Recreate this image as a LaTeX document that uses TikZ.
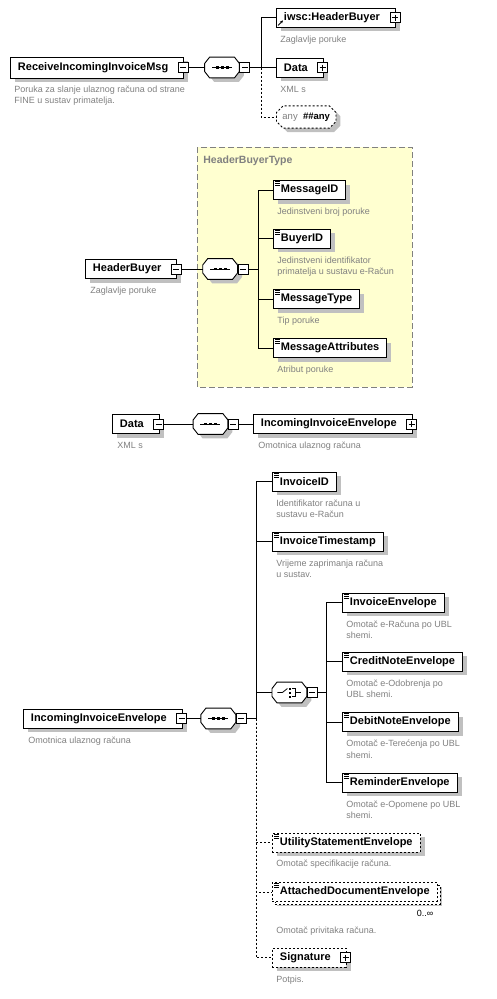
\documentclass[tikz,border=0pt]{standalone}
\usepackage{fontspec}
\setmainfont{Liberation Sans}
\usetikzlibrary{positioning,shapes.misc,shadows,arrows.meta}

\definecolor{descgray}{RGB}{128,128,128}
\definecolor{typeyellow}{RGB}{255,255,208}
\definecolor{shadowgray}{RGB}{192,192,192}

\tikzset{
  elem/.style={draw, fill=white, line width=0.9pt, minimum height=19pt,
    inner xsep=7.5pt, inner ysep=0pt, anchor=west,
    font=\bfseries\fontsize{11}{12}\selectfont,
    drop shadow={shadow xshift=4.5pt, shadow yshift=-4pt, fill=shadowgray, opacity=1}},
  optelem/.style={elem, dash pattern=on 2pt off 2pt},
  multi/.style={copy shadow={shadow xshift=3pt, shadow yshift=-3pt, fill=white,
    draw, line width=0.9pt, dash pattern=on 2pt off 2pt}},
  hasbtn/.style={execute at end node={\hspace{8pt}}},
  compositor/.style={minimum width=34pt, minimum height=20pt, inner sep=0pt},
  btn/.style={draw, fill=white, line width=0.7pt, minimum size=10pt, inner sep=0pt,
    path picture={\draw[line width=0.7pt] ([xshift=2pt]path picture bounding box.west)
      -- ([xshift=-2pt]path picture bounding box.east);}},
  plusbtn/.style={draw, fill=white, line width=0.7pt, minimum size=10pt, inner sep=0pt,
    path picture={\draw[line width=0.7pt] ([xshift=2pt]path picture bounding box.west)
      -- ([xshift=-2pt]path picture bounding box.east)
      ([yshift=-2pt]path picture bounding box.north)
      -- ([yshift=2pt]path picture bounding box.south);}},
  desc/.style={font=\fontsize{9}{11.5}\selectfont, text=descgray, align=left,
    inner sep=0pt, anchor=north west},
  optline/.style={dash pattern=on 2pt off 2pt},
  typebox/.style={draw=descgray, fill=typeyellow, line width=0.9pt, dash pattern=on 6pt off 3pt},
}

% octagon of a compositor, with its shadow
\newcommand\compbox[1]{%
  \fill[shadowgray, transform canvas={shift={(4.5pt,-4pt)}}]
    ([yshift=4pt]#1.west) -- ([xshift=5pt]#1.north west)
    -- ([xshift=-5pt]#1.north east) -- ([yshift=4pt]#1.east) -- ([yshift=-4pt]#1.east)
    -- ([xshift=-5pt]#1.south east) -- ([xshift=5pt]#1.south west)
    -- ([yshift=-4pt]#1.west) -- cycle;
  \draw[fill=white, line width=0.9pt] ([yshift=4pt]#1.west) -- ([xshift=5pt]#1.north west)
    -- ([xshift=-5pt]#1.north east) -- ([yshift=4pt]#1.east) -- ([yshift=-4pt]#1.east)
    -- ([xshift=-5pt]#1.south east) -- ([xshift=5pt]#1.south west)
    -- ([yshift=-4pt]#1.west) -- cycle;}
% small marks inside the boxes
\newcommand\leafmark[1]{%
  \foreach \k in {1.5,3.5,5.5}
    \draw[line width=0.7pt] ([shift={(2,\k)}]#1.north west) -- ++(5,0);}
\newcommand\seqmark[1]{%
  \draw[line width=0.8pt] ([xshift=-10pt]#1.center) -- ([xshift=10pt]#1.center);
  \foreach \dx in {-5,0,5}
    \fill ([xshift=\dx pt]#1.center) +(-1.5,-1.2) rectangle +(1.5,1.2);}
\newcommand\choicemark[1]{%
  \draw[line width=0.8pt] ([xshift=-12pt]#1.center) -- ++(5,0) -- ++(5,-4);
  \foreach \dy in {-4,0,4}
    \fill ([shift={(1,\dy)}]#1.center) +(-1,-1) rectangle +(1,1);
  \draw[line width=0.8pt] ([shift={(3,-4)}]#1.center) -- ++(3,0) -- ++(0,8) -- ++(-3,0)
    ([shift={(6,0)}]#1.center) -- ++(6,0);}

\begin{document}
\begin{tikzpicture}[x=1pt, y=-1pt, line width=0.8pt]
\useasboundingbox (0,0) rectangle (497,999);

% ReceiveIncomingInvoiceMsg
\node[elem, hasbtn, minimum height=21pt] (rimsg) at (10,67.5) {ReceiveIncomingInvoiceMsg};
\node[btn] (rimsgbtn) at ([xshift=-1pt]rimsg.east) {};
\node[desc] (rimsgdesc) at ([shift={(4,7)}]rimsg.south west) {Poruka za slanje ulaznog računa od strane\\FINE u sustav primatelja.};
\node[compositor, right=16pt of rimsgbtn] (seq1) {};
\compbox{seq1}
\seqmark{seq1}
\node[btn, anchor=west] (seq1btn) at (seq1.east) {};
\coordinate (bus1) at ([xshift=11pt]seq1btn.east);

\node[elem, hasbtn] (hdr) at (276,17.5) {iwsc:HeaderBuyer};
\node[plusbtn] (hdrbtn) at ([xshift=-1pt]hdr.east) {};
\draw[-{Stealth[length=3pt,width=3pt]}] ([shift={(2,-2)}]hdr.south west) -- ++(5,-5);
\node[desc] (hdrdesc) at ([shift={(4,8)}]hdr.south west) {Zaglavlje poruke};
\node[elem, hasbtn] (data) at (276,67.5) {Data};
\node[plusbtn] (databtn) at ([xshift=-1pt]data.east) {};
\node[desc] (datadesc) at ([shift={(4,8)}]data.south west) {XML s};
\node[chamfered rectangle, chamfered rectangle xsep=3pt, draw, fill=white, line width=0.9pt,
  optline, minimum height=18pt, inner xsep=3pt, anchor=west,
  drop shadow={shadow xshift=4.5pt, shadow yshift=-4pt, fill=shadowgray, opacity=1}]
  (any) at (276,117) {\fontsize{9.5}{11}\selectfont{\color{descgray}any}\ \ \textbf{\#\#any}};

\draw (rimsgbtn) -- (seq1);
\draw (seq1btn) -- (bus1);
\draw (bus1) |- (hdr);
\draw (bus1) |- (data);
\draw[optline] (bus1) |- (any);

% HeaderBuyerType
\draw[typebox] (197,147) rectangle (412,387);
\node[anchor=west, text=descgray, font=\bfseries\fontsize{10.5}{12}\selectfont, inner sep=0pt]
  (hbtype) at (203,161) {HeaderBuyerType};
\node[elem, hasbtn] (hb) at (85,269) {HeaderBuyer};
\node[btn] (hbbtn) at ([xshift=-1pt]hb.east) {};
\node[desc] (hbdesc) at ([shift={(5,8)}]hb.south west) {Zaglavlje poruke};
\node[compositor, right=21pt of hbbtn] (seq2) {};
\compbox{seq2}
\seqmark{seq2}
\node[btn, anchor=west] (seq2btn) at (seq2.east) {};
\coordinate (bus2) at ([xshift=10pt]seq2btn.east);

\node[elem] (msgid) at (273,190) {MessageID};
\leafmark{msgid}
\node[desc] (msgiddesc) at ([shift={(4,8)}]msgid.south west) {Jedinstveni broj poruke};
\node[elem] (buyerid) at (273,238.5) {BuyerID};
\leafmark{buyerid}
\node[desc] (buyeriddesc) at ([shift={(4,8)}]buyerid.south west) {Jedinstveni identifikator\\primatelja u sustavu e-Račun};
\node[elem] (msgtype) at (273,299) {MessageType};
\leafmark{msgtype}
\node[desc] (msgtypedesc) at ([shift={(4,8)}]msgtype.south west) {Tip poruke};
\node[elem] (msgattr) at (273,348) {MessageAttributes};
\leafmark{msgattr}
\node[desc] (msgattrdesc) at ([shift={(4,8)}]msgattr.south west) {Atribut poruke};

\draw (hbbtn) -- (seq2);
\draw (seq2btn) -- (bus2);
\draw (bus2) |- (msgid);
\draw (bus2) |- (buyerid);
\draw (bus2) |- (msgtype);
\draw (bus2) |- (msgattr);

% Data
\node[elem, hasbtn] (data2) at (112,424) {Data};
\node[btn] (data2btn) at ([xshift=-1pt]data2.east) {};
\node[desc] (data2desc) at ([shift={(5,8)}]data2.south west) {XML s};
\node[compositor, right=29pt of data2btn] (seq3) {};
\compbox{seq3}
\seqmark{seq3}
\node[btn, anchor=west] (seq3btn) at (seq3.east) {};
\node[elem, hasbtn] (env) at (253,424) {IncomingInvoiceEnvelope};
\node[plusbtn] (envbtn) at ([xshift=-1pt]env.east) {};
\node[desc] (envdesc) at ([shift={(5,8)}]env.south west) {Omotnica ulaznog računa};

\draw (data2btn) -- (seq3);
\draw (seq3btn) -- (env);

% IncomingInvoiceEnvelope
\node[elem, hasbtn] (env2) at (23,718.5) {IncomingInvoiceEnvelope};
\node[btn] (env2btn) at ([xshift=-1pt]env2.east) {};
\node[desc] (env2desc) at ([shift={(5,8)}]env2.south west) {Omotnica ulaznog računa};
\node[compositor, right=14pt of env2btn] (seq4) {};
\compbox{seq4}
\seqmark{seq4}
\node[btn, anchor=west] (seq4btn) at (seq4.east) {};
\coordinate (bus4) at ([xshift=10pt]seq4btn.east);

\node[elem] (invid) at (272,481.5) {InvoiceID};
\leafmark{invid}
\node[desc] (inviddesc) at ([shift={(4,8)}]invid.south west) {Identifikator računa u\\sustavu e-Račun};
\node[elem] (invts) at (272,541.5) {InvoiceTimestamp};
\leafmark{invts}
\node[desc] (invtsdesc) at ([shift={(4,8)}]invts.south west) {Vrijeme zaprimanja računa\\u sustav.};

\node[compositor, anchor=west] (choice) at (272,692.5) {};
\compbox{choice}
\choicemark{choice}
\node[btn, anchor=west] (choicebtn) at (choice.east) {};
\coordinate (bus5) at ([xshift=9pt]choicebtn.east);

\node[elem] (invenv) at (342,602.5) {InvoiceEnvelope};
\leafmark{invenv}
\node[desc] (invenvdesc) at ([shift={(4,8)}]invenv.south west) {Omotač e-Računa po UBL\\shemi.};
\node[elem] (cnenv) at (342,661.5) {CreditNoteEnvelope};
\leafmark{cnenv}
\node[desc] (cnenvdesc) at ([shift={(4,8)}]cnenv.south west) {Omotač e-Odobrenja po\\UBL shemi.};
\node[elem] (dnenv) at (342,722) {DebitNoteEnvelope};
\leafmark{dnenv}
\node[desc] (dnenvdesc) at ([shift={(4,8)}]dnenv.south west) {Omotač e-Terećenja po UBL\\shemi.};
\node[elem] (remenv) at (342,782.5) {ReminderEnvelope};
\leafmark{remenv}
\node[desc] (remenvdesc) at ([shift={(4,8)}]remenv.south west) {Omotač e-Opomene po UBL\\shemi.};

\node[optelem] (usenv) at (272,842.5) {UtilityStatementEnvelope};
\leafmark{usenv}
\node[desc] (usenvdesc) at ([shift={(4,7)}]usenv.south west) {Omotač specifikacije računa.};
\node[optelem, multi] (adenv) at (272,892) {AttachedDocumentEnvelope};
\leafmark{adenv}
\node[inner sep=0pt, anchor=north east, font=\fontsize{9}{10}\selectfont]
  (adenvmult) at ([shift={(-4,8)}]adenv.south east) {0..∞};
\node[desc] (adenvdesc) at ([shift={(4,25)}]adenv.south west) {Omotač privitaka računa.};
\node[optelem, hasbtn] (sig) at (272,957.5) {Signature};
\node[plusbtn] (sigbtn) at ([xshift=-1pt]sig.east) {};
\node[desc] (sigdesc) at ([shift={(4,8)}]sig.south west) {Potpis.};

\draw (env2btn) -- (seq4);
\draw (seq4btn) -- (bus4);
\draw (bus4) |- (invid);
\draw (bus4) |- (invts);
\draw (bus4) -- (bus4 |- choice.west) -- (choice);
\draw[optline] (bus4) |- (usenv);
\draw[optline] (bus4) |- (adenv);
\draw[optline] (bus4) |- (sig);
\draw (choicebtn) -- (bus5);
\draw (bus5) |- (invenv);
\draw (bus5) |- (cnenv);
\draw (bus5) |- (dnenv);
\draw (bus5) |- (remenv);
\end{tikzpicture}
\end{document}
